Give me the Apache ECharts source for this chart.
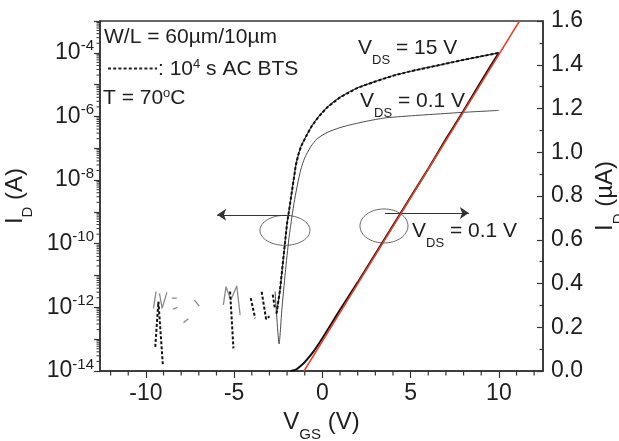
<!DOCTYPE html>
<html>
<head>
<meta charset="utf-8">
<title>ID-VGS transfer curves</title>
<script src="https://cdn.jsdelivr.net/npm/echarts@6.0.0/dist/echarts.min.js"></script>
<style>
html, body { margin: 0; padding: 0; background: #fff; }
#main { width: 619px; height: 441px; }
</style>
</head>
<body>
<div id="main"></div>
<script>
// axis ticks
var xLabels = [-10, -5, 0, 5, 10];
var xMinorTicks = [-12, -11, -9, -8, -7, -6, -4, -3, -2, -1, 1, 2, 3, 4, 6, 7, 8, 9, 11, 12];
var rightLabels = [0, 0.2, 0.4, 0.6, 0.8, 1.0, 1.2, 1.4, 1.6];

// V_DS = 15 V, log10(I_D / A); solid = fresh, dashed = after 10^4 s AC BTS
var vgs15 = [-2.6, -2.4, -2.2, -2.0, -1.9, -1.7, -1.5, -1.35, -1.2, -0.9, -0.6, -0.2, 0.3, 1.0, 2.0, 3.0, 4.0, 5.0, 6.0, 7.0, 8.0, 9.0, 10.0];
var logId15 = [-12.2, -11.45, -10.4, -9.35, -9.0, -8.25, -7.52, -7.18, -6.93, -6.6, -6.3, -6.0, -5.7, -5.4, -5.1, -4.9, -4.72, -4.58, -4.46, -4.34, -4.22, -4.11, -4.0];

// off-state noise of the dashed (stressed) curve, null = gap
var vgsNoise15 = [-9.47, -9.29, -9.04, null, -5.23, -5.04, null, -4.06, -3.81, null, -3.44, -3.19, -3.0, null, -2.81, -2.7];
var logNoise15 = [-13.24, -11.82, -13.8, null, -11.5, -13.29, null, -11.71, -12.34, null, -11.51, -12.37, -12.28, null, -11.6, -12.0];

// V_DS = 0.1 V, log10(I_D / A)
var vgs01 = [-2.68, -2.45, -2.3, -2.1, -1.9, -1.75, -1.6, -1.45, -1.23, -1.0, -0.66, -0.3, 0.28, 1.0, 1.61, 2.5, 3.5, 5.0, 6.34, 8.0, 10.0];
var logId01 = [-11.5, -13.15, -12.1, -10.9, -9.85, -9.25, -8.7, -8.25, -7.68, -7.3, -6.95, -6.7, -6.5, -6.35, -6.26, -6.15, -6.05, -5.98, -5.93, -5.87, -5.81];

// off-state noise, solid grey
var vgsNoise01 = [-9.57, -9.42, null, -9.23, -9.08, -8.81, null, -8.53, -8.25, null, -8.47, -8.21, null, -7.87, -7.59, null, -7.25, -6.98, null, -5.61, -5.46, -5.19, -4.85, -4.66];
var logNoise01 = [-12.03, -11.5, null, -11.56, -12.03, -11.53, null, -11.71, -11.71, null, -12.06, -12.0, null, -12.48, -12.36, null, -11.77, -11.96, null, -11.92, -11.35, -11.77, -11.33, -12.24];

// V_DS = 0.1 V on linear scale (uA) and its linear fit
var vgsLin = [-1.8, -1.5, -1.2, -0.9, -0.5, 0, 0.5, 1, 2, 3, 4, 5, 6, 7, 8, 9, 10];
var idLin = [0, 0.006, 0.025, 0.05, 0.09, 0.15, 0.215, 0.28, 0.405, 0.535, 0.665, 0.795, 0.925, 1.06, 1.19, 1.325, 1.455];
var vgsFit = [-1.04, 11.17];
var idFit = [0, 1.6];

// annotation anchors
var leftRing = [[-2.12, -9.58]];
var rightRing = [[3.49, 0.663]];

var xMin = -12.6, xMax = 12.5, logMin = -14, logMax = -3;

function pts(xs, ys) {
    var out = [];
    for (var i = 0; i < xs.length; i++) {
        if (ys[i] === null) out.push([xs[i - 1], '-']);
        else out.push([xs[i], ys[i]]);
    }
    return out;
}

// log minor ticks (2..9 in every decade)
var logMinor = [];
for (var n = logMin; n < logMax; n++) {
    for (var k = 2; k <= 9; k++) logMinor.push(n + Math.log10(k));
}
var logMajor = [];
for (var m = logMin; m <= logMax; m++) logMajor.push(m);

var font = 'Liberation Sans';
var axisColor = '#333';
var txtColor = '#1e1e1e';

function ring(rx, ry) {
    return function (params, api) {
        var c = api.coord([api.value(0), api.value(1)]);
        return {
            type: 'ellipse',
            shape: { cx: c[0], cy: c[1], rx: rx, ry: ry },
            style: { fill: 'none', stroke: '#666', lineWidth: 1 }
        };
    };
}

// short tick from an axis point, drawn outside the grid
function tickMark(dx, dy, w) {
    return function (params, api) {
        var p = api.coord([api.value(0), api.value(1)]);
        return {
            type: 'line',
            shape: { x1: p[0], y1: p[1], x2: p[0] + dx, y2: p[1] + dy },
            style: { stroke: axisColor, lineWidth: w }
        };
    };
}

var subRich = {
    n: { fontSize: 24, lineHeight: 40, verticalAlign: 'middle', color: txtColor, fontFamily: font },
    d: { fontSize: 15, lineHeight: 12, verticalAlign: 'bottom', color: txtColor, fontFamily: font }
};
var vdsRich = {
    v: { fontSize: 21, lineHeight: 38, verticalAlign: 'middle', fill: txtColor, fontFamily: font },
    d: { fontSize: 13, lineHeight: 13, verticalAlign: 'bottom', fill: txtColor, fontFamily: font }
};
var supRich = {
    t: { fontSize: 21, lineHeight: 22, verticalAlign: 'middle', fill: txtColor, fontFamily: font },
    s: { fontSize: 13, lineHeight: 12, verticalAlign: 'top', fill: txtColor, fontFamily: font }
};

// text annotations
var notes = [
    { type: 'text', x: 104, y: 37, style: { text: 'W/L = 60\u00b5m/10\u00b5m', fontSize: 21, fontFamily: font, fill: txtColor, verticalAlign: 'middle' } },
    { type: 'line', shape: { x1: 108, y1: 68.5, x2: 157, y2: 68.5 }, style: { stroke: '#222', lineWidth: 2, lineDash: [3, 2.2] } },
    { type: 'text', x: 158, y: 69, style: { text: '{t|: 10}{s|4}{t| s AC BTS}', rich: supRich, verticalAlign: 'middle' } },
    { type: 'text', x: 103, y: 98, style: { text: '{t|T = 70}{s|o}{t|C}', rich: supRich, verticalAlign: 'middle' } },
    { type: 'text', x: 358, y: 48, style: { text: '{v|V}{d|DS}{v| = 15 V}', rich: vdsRich, verticalAlign: 'middle' } },
    { type: 'text', x: 360, y: 101, style: { text: '{v|V}{d|DS}{v| = 0.1 V}', rich: vdsRich, verticalAlign: 'middle' } },
    { type: 'text', x: 412, y: 231, style: { text: '{v|V}{d|DS}{v| = 0.1 V}', rich: vdsRich, verticalAlign: 'middle' } }
];

var chart = echarts.init(document.getElementById('main'));
var option = {
    animation: false,
    textStyle: { fontFamily: font },
    grid: {
        left: 100, right: 76, top: 21, bottom: 70,
        outerBoundsMode: 'none', containLabel: false,
        show: true, borderColor: axisColor, borderWidth: 1.5, backgroundColor: 'transparent'
    },
    xAxis: {
        type: 'value', min: xMin, max: xMax, position: 'bottom',
        name: '{n|V}{d|GS}{n| (V)}', nameLocation: 'middle', nameGap: 28,
        nameTextStyle: { rich: subRich },
        axisLine: { show: true, onZero: false, lineStyle: { color: axisColor, width: 1.5 } },
        axisTick: { show: true, customValues: xLabels, length: 7, lineStyle: { color: axisColor, width: 1.2 } },
        axisLabel: { customValues: xLabels, fontSize: 23, color: txtColor, margin: 11 },
        splitLine: { show: false }
    },
    yAxis: [
        {
            type: 'value', min: logMin, max: logMax, interval: 1, position: 'left',
            name: '{n|I}{d|D}{n| (A)}', nameLocation: 'middle', nameGap: 58, nameRotate: 90,
            nameTextStyle: { rich: subRich },
            axisLine: { show: true, onZero: false, lineStyle: { color: axisColor, width: 1.5 } },
            axisTick: { show: true, customValues: logMajor, length: 6, lineStyle: { color: axisColor, width: 1.2 } },
            axisLabel: {
                margin: 6,
                formatter: function (v) {
                    return v % 2 === 0 ? '{b|10}{s|' + v + '}' : '';
                },
                rich: {
                    b: { fontSize: 23, lineHeight: 28, verticalAlign: 'middle', color: txtColor, fontFamily: font },
                    s: { fontSize: 15, lineHeight: 15, verticalAlign: 'top', color: txtColor, fontFamily: font }
                }
            },
            splitLine: { show: false }
        },
        {
            type: 'value', min: 0, max: 1.6, interval: 0.2, position: 'right',
            name: '{n|I}{d|D}{n| (\u00b5A)}', nameLocation: 'middle', nameGap: 34, nameRotate: 90,
            nameTextStyle: { rich: subRich },
            axisLine: { show: true, onZero: false, lineStyle: { color: axisColor, width: 1.5 } },
            axisTick: { show: true, inside: true, length: 6, lineStyle: { color: axisColor, width: 1.2 } },
            minorTick: { show: true, splitNumber: 2, length: 3.5, lineStyle: { color: axisColor, width: 1.2 } },
            axisLabel: {
                fontSize: 23, color: txtColor, margin: 8,
                formatter: function (v) { return v.toFixed(1); }
            },
            splitLine: { show: false }
        }
    ],
    series: [
        {
            name: 'x minor ticks', type: 'custom', yAxisIndex: 0, silent: true, clip: false,
            data: xMinorTicks.map(function (v) { return [v, logMin]; }),
            renderItem: tickMark(0, 4.5, 1.2)
        },
        {
            name: 'log minor ticks', type: 'custom', yAxisIndex: 0, silent: true, clip: false,
            data: logMinor.map(function (v) { return [xMin, v]; }),
            renderItem: tickMark(-3.5, 0, 1)
        },
        {
            name: 'noise 0.1 V', type: 'line', yAxisIndex: 0, data: pts(vgsNoise01, logNoise01),
            symbol: 'none', connectNulls: false, silent: true,
            lineStyle: { color: '#8a8a8a', width: 1.3 }
        },
        {
            name: 'VDS 0.1 V', type: 'line', yAxisIndex: 0, data: pts(vgs01, logId01),
            symbol: 'none', smooth: 0.2, silent: true,
            lineStyle: { color: '#4a4a4a', width: 1 }
        },
        {
            name: 'VDS 15 V', type: 'line', yAxisIndex: 0, data: pts(vgs15, logId15),
            symbol: 'none', smooth: 0.2, silent: true,
            lineStyle: { color: '#333', width: 1.2 }
        },
        {
            name: 'VDS 15 V BTS', type: 'line', yAxisIndex: 0,
            data: pts(vgsNoise15, logNoise15).concat([['-', '-']]).concat(pts(vgs15, logId15)),
            symbol: 'none', connectNulls: false, silent: true,
            lineStyle: { color: '#111', width: 2, type: [3, 2] },
            markLine: {
                silent: true, symbol: ['none', 'arrow'], symbolSize: 9,
                label: { show: false },
                lineStyle: { color: '#333', width: 1, type: 'solid' },
                data: [[{ coord: [-1.83, -9.09] }, { coord: [-5.96, -9.09] }]]
            }
        },
        {
            name: 'ring left', type: 'custom', yAxisIndex: 0, data: leftRing,
            renderItem: ring(25, 15), silent: true
        },
        {
            name: 'linear', type: 'line', yAxisIndex: 1, data: pts(vgsLin, idLin),
            symbol: 'none', smooth: 0.2, silent: true,
            lineStyle: { color: '#111', width: 2 },
            markLine: {
                silent: true, symbol: ['none', 'arrow'], symbolSize: 9,
                label: { show: false },
                lineStyle: { color: '#333', width: 1, type: 'solid' },
                data: [[{ coord: [3.54, 0.722] }, { coord: [8.3, 0.722] }]]
            }
        },
        {
            name: 'fit', type: 'line', yAxisIndex: 1, data: pts(vgsFit, idFit),
            symbol: 'none', silent: true, z: 5,
            lineStyle: { color: '#e8402a', width: 1.5 }
        },
        {
            name: 'ring right', type: 'custom', yAxisIndex: 1, data: rightRing,
            renderItem: ring(24, 17), silent: true
        }
    ],
    graphic: notes
};
chart.setOption(option);
</script>
</body>
</html>
